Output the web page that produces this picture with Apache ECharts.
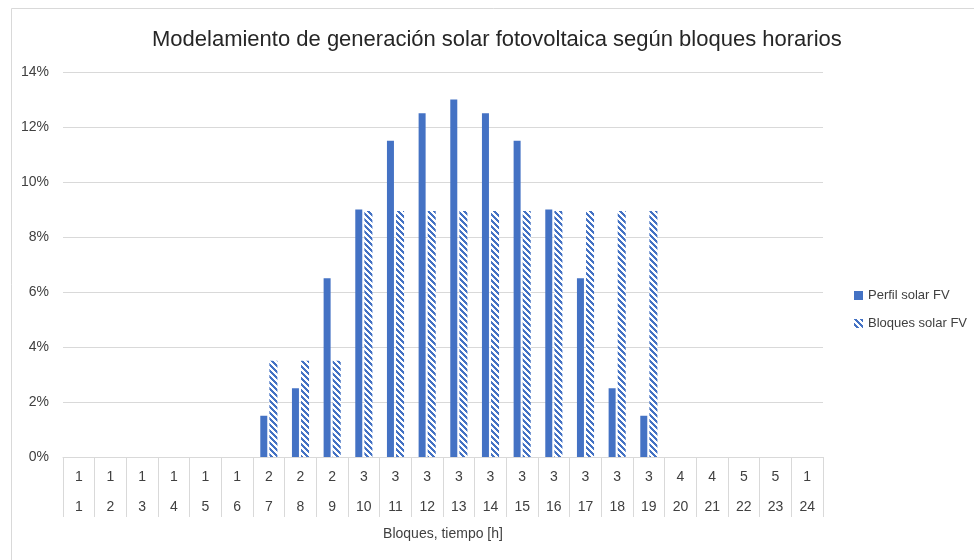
<!DOCTYPE html>
<html>
<head>
<meta charset="utf-8">
<script src="https://cdn.jsdelivr.net/npm/echarts@6/dist/echarts.min.js"></script>
<style>html,body{margin:0;padding:0;background:#fff}#c{width:974px;height:560px}</style>
</head>
<body>
<div id="c"></div>
<script>
var hours = ['1','2','3','4','5','6','7','8','9','10','11','12','13','14','15','16','17','18','19','20','21','22','23','24'];
var blocks = ['1','1','1','1','1','1','2','2','2','3','3','3','3','3','3','3','3','3','3','4','4','5','5','1'];
var perfil = [0,0,0,0,0,0,1.5,2.5,6.5,9,11.5,12.5,13,12.5,11.5,9,6.5,2.5,1.5,0,0,0,0,0];
var bloques = [0,0,0,0,0,0,3.5,3.5,3.5,8.95,8.95,8.95,8.95,8.95,8.95,8.95,8.95,8.95,8.95,0,0,0,0,0];
var yTicks = [0,2,4,6,8,10,12,14];

var BLUE = '#4472C4';
function makePattern(){
  var c = document.createElement('canvas');
  c.width = 6; c.height = 6;
  var ctx = c.getContext('2d');
  ctx.fillStyle = '#ffffff'; ctx.fillRect(0,0,6,6);
  ctx.fillStyle = BLUE;
  for (var x=0;x<6;x++) for (var y=0;y<6;y++){
    if ((((x - y) % 6) + 6) % 6 < 3) ctx.fillRect(x,y,1,1);
  }
  return c;
}
var pat = makePattern();

var chart = echarts.init(document.getElementById('c'), null, {renderer:'canvas'});
var font = 'Liberation Sans, Arial, sans-serif';
chart.setOption({
  animation:false,
  backgroundColor:'#fff',
  graphic:[{type:'rect', shape:{x:11.5,y:8.5,width:1000,height:600}, style:{fill:'none', stroke:'#d9d9d9', lineWidth:1}, silent:true}],
  title:{text:'Modelamiento de generación solar fotovoltaica según bloques horarios', left:147, top:24,
    textStyle:{fontFamily:font, fontSize:22, fontWeight:'normal', color:'#262626'}},
  legend:{orient:'vertical', left:849, top:284, itemGap:15, itemWidth:9, itemHeight:9,
    textStyle:{fontFamily:font, fontSize:13, color:'#404040'},
    data:[{name:'Perfil solar FV', icon:'rect'},{name:'Bloques solar FV', icon:'rect'}]},
  grid:{left:63, right:151, top:72, bottom:103},
  xAxis:{type:'category', data:hours.map(function(h,i){return blocks[i]+'\n'+h;}),
    name:'Bloques, tiempo [h]', nameLocation:'middle', nameGap:65,
    nameTextStyle:{fontFamily:font, fontSize:14, color:'#404040'},
    axisLine:{lineStyle:{color:'#d9d9d9'}},
    axisTick:{show:true, length:60, lineStyle:{color:'#d9d9d9'}},
    axisLabel:{interval:0, margin:5, fontFamily:font, fontSize:14, color:'#404040', lineHeight:30}},
  yAxis:{type:'value', min:0, max:14, interval:2,
    axisLabel:{formatter:function(v){return v+'%';}, margin:14, fontFamily:font, fontSize:14, color:'#404040'},
    splitLine:{lineStyle:{color:'#d9d9d9'}}, axisLine:{show:false}, axisTick:{show:false}},
  series:[
    {name:'Perfil solar FV', type:'bar', data:perfil, barWidth:7, barGap:'30%', itemStyle:{color:BLUE}},
    {name:'Bloques solar FV', type:'bar', data:bloques, barWidth:8, itemStyle:{color:{image:pat, repeat:'repeat'}}}
  ]
});
</script>
</body>
</html>
